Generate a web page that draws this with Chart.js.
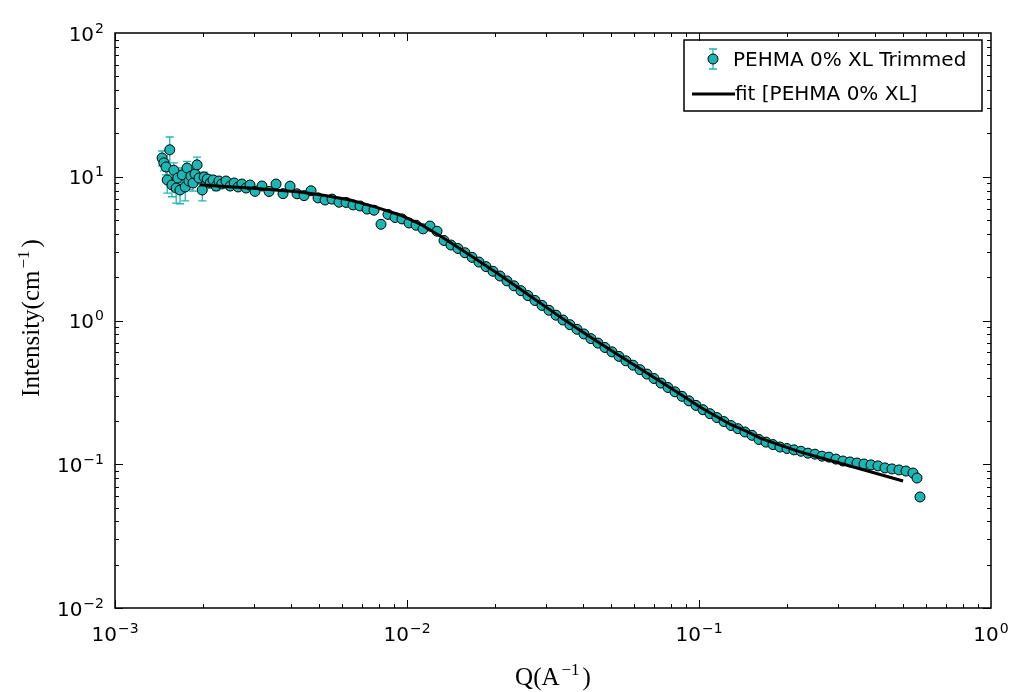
<!DOCTYPE html>
<html>
<head>
<meta charset="utf-8">
<script src="https://cdn.jsdelivr.net/npm/chart.js@4.4.1/dist/chart.umd.min.js"></script>
<style>
  body { margin: 0; background: #fff; }
  canvas { display: block; }
</style>
</head>
<body>
<canvas id="mychart" width="1016" height="692"></canvas>
<script>
// SANS curve, Q in 1/A, intensity in 1/cm
const dataQ = [
  0.00145, 0.00147, 0.001495, 0.00151, 0.00154, 0.001567, 0.00159, 0.00162, 0.00164, 0.00167,
  0.0017, 0.00174, 0.001765, 0.00179, 0.00182, 0.00185, 0.00188, 0.00191, 0.00194, 0.00199,
  0.00202, 0.00207, 0.00212, 0.002167, 0.00222, 0.00227, 0.00232, 0.0024, 0.00248, 0.00256,
  0.00264, 0.00272, 0.00281, 0.0029,
  0.003016, 0.003187, 0.003369, 0.00356, 0.003762, 0.003976, 0.004201, 0.00444, 0.004692, 0.004958,
  0.00524, 0.005537, 0.005851, 0.006183, 0.006534, 0.006905, 0.007297, 0.007709, 0.008147, 0.00861,
  0.009098, 0.009614, 0.01016, 0.01074, 0.01135, 0.01199, 0.01267, 0.01339, 0.01415, 0.01495,
  0.0158, 0.0167, 0.01764, 0.01865, 0.0197, 0.02082, 0.022, 0.02325, 0.02457, 0.02596,
  0.02744, 0.02899, 0.03064, 0.03238, 0.03421, 0.03615, 0.03821, 0.04037, 0.04266, 0.04509,
  0.04764, 0.05035, 0.0532, 0.05623, 0.05943, 0.0628, 0.06636, 0.07013, 0.07411, 0.07831,
  0.08275, 0.08745, 0.09241, 0.09766, 0.1032, 0.1091, 0.1152, 0.1218, 0.1287, 0.136,
  0.1437, 0.1519, 0.1605, 0.1696, 0.1792, 0.1894, 0.2001, 0.2115, 0.2235, 0.2362,
  0.2496, 0.2637, 0.2787, 0.2945, 0.3112, 0.3289, 0.3476, 0.3673, 0.3882, 0.4102,
  0.4334, 0.458, 0.4841, 0.5116, 0.5405, 0.5579, 0.5712
];
const dataI = [
  13.5, 12.5, 11.7, 9.5, 15.4, 8.76, 11.1, 8.35, 9.8, 8.09,
  10.3, 8.49, 11.5, 9.34, 10.1, 9.05, 10.45, 12.1, 9.8, 8.09,
  9.96, 9.65, 9.05, 9.5, 8.62, 9.34, 8.9, 9.34, 8.62, 9.05,
  8.49, 8.9, 8.35, 8.76,
  7.91, 8.62, 7.90, 8.90, 7.63, 8.60, 7.61, 7.39, 7.99, 7.13,
  6.89, 6.99, 6.65, 6.63, 6.37, 6.26, 5.96, 5.85, 4.67, 5.47,
  5.21, 5.09, 4.77, 4.60, 4.34, 4.54, 4.18, 3.60, 3.35, 3.17,
  2.96, 2.75, 2.55, 2.37, 2.20, 2.04, 1.886, 1.743, 1.612, 1.490,
  1.378, 1.274, 1.178, 1.089, 1.008, 0.935, 0.869, 0.806, 0.748, 0.696,
  0.649, 0.605, 0.563, 0.524, 0.489, 0.455, 0.424, 0.395, 0.367, 0.342,
  0.319, 0.297, 0.276, 0.2567, 0.2396, 0.2247, 0.2112, 0.198, 0.186, 0.1768,
  0.1677, 0.159, 0.1487, 0.1426, 0.137, 0.1318, 0.1287, 0.1259, 0.1231, 0.1194,
  0.1175, 0.1138, 0.1121, 0.1086, 0.1053, 0.1037, 0.102, 0.1004, 0.099, 0.0974,
  0.0943, 0.0928, 0.0913, 0.0897, 0.0869, 0.0802, 0.0592
];
// error bars of the first points (further on they hide under the markers)
const dataErr = [
  1.6, 1.5, 1.4, 1.8, 3.5, 1.5, 1.4, 1.8, 1.3, 1.6,
  1.2, 1.7, 1.3, 1.2, 1.0, 1.1, 1.0, 1.6, 0.9, 1.3,
  0.8, 0.7, 0.7, 0.6, 0.6, 0.5, 0.5, 0.5, 0.45, 0.4,
  0.4, 0.35, 0.35, 0.3
];

// model fit
const fitQ = [0.00195, 0.00238, 0.0029, 0.00353, 0.0043, 0.00524, 0.00638, 0.00777, 0.00946, 0.0111,
  0.013, 0.0164, 0.0208, 0.0264, 0.0334, 0.0424, 0.0536, 0.068, 0.0861, 0.1007,
  0.1277, 0.145, 0.162, 0.1894, 0.222, 0.27, 0.329, 0.5];
const fitI = [8.8, 8.55, 8.36, 8.1, 7.83, 7.41, 6.89, 6.17, 5.42, 4.69,
  3.87, 2.86, 2.07, 1.48, 1.06, 0.767, 0.566, 0.418, 0.308, 0.25,
  0.19, 0.17, 0.152, 0.136, 0.122, 0.1088, 0.0973, 0.0764];

const xExponents = [-3, -2, -1, 0];
const yExponents = [-2, -1, 0, 1, 2];

const seriesLabel = "PEHMA 0% XL Trimmed";
const fitLabel = "fit [PEHMA 0% XL]";

const teal = "rgb(28, 182, 180)";
const sansBig = "20px 'DejaVu Sans'";
const sansSmall = "14px 'DejaVu Sans'";
const serifBig = "25px 'Liberation Serif'";
const serifSmall = "17px 'Liberation Serif'";

function expText(e) {
  return e < 0 ? "\u2212" + Math.abs(e) : String(e);
}

// "10" with a raised exponent, returns its width
function powWidth(ctx, e) {
  ctx.font = sansBig;
  const w1 = ctx.measureText("10").width;
  ctx.font = sansSmall;
  return w1 + 1 + ctx.measureText(expText(e)).width;
}
function drawPow(ctx, left, baseline, e) {
  ctx.font = sansBig;
  const w1 = ctx.measureText("10").width;
  ctx.fillText("10", left, baseline);
  ctx.font = sansSmall;
  ctx.fillText(expText(e), left + w1 + 1, baseline - 8);
}

// text + superscript + closing text, centred on 0
function drawTitle(ctx, main, sup, tail) {
  ctx.font = serifBig;
  const w1 = ctx.measureText(main).width;
  const w3 = ctx.measureText(tail).width;
  ctx.font = serifSmall;
  const w2 = ctx.measureText(sup).width;
  const total = w1 + 2 + w2 + 3 + w3;
  let x = -total / 2;
  ctx.font = serifBig;
  ctx.fillText(main, x, 0);
  x += w1 + 2;
  ctx.font = serifSmall;
  ctx.fillText(sup, x, -10);
  x += w2 + 3;
  ctx.font = serifBig;
  ctx.fillText(tail, x, 0);
}

function errorBar(ctx, px, top, bot) {
  ctx.beginPath();
  ctx.moveTo(px, top); ctx.lineTo(px, bot);
  ctx.moveTo(px - 4, top); ctx.lineTo(px + 4, top);
  ctx.moveTo(px - 4, bot); ctx.lineTo(px + 4, bot);
  ctx.stroke();
}

const axesPlugin = {
  id: "axesPlugin",
  beforeDatasetsDraw(chart) {
    const { ctx, scales: { x, y } } = chart;
    ctx.save();
    ctx.strokeStyle = teal;
    ctx.lineWidth = 1.3;
    dataErr.forEach((e, i) => {
      const px = x.getPixelForValue(dataQ[i]);
      errorBar(ctx, px, y.getPixelForValue(dataI[i] + e), y.getPixelForValue(dataI[i] - e));
    });
    ctx.restore();
  },
  afterDraw(chart) {
    const { ctx, chartArea: a, scales: { x, y } } = chart;
    ctx.save();
    ctx.strokeStyle = "#000";
    ctx.fillStyle = "#000";

    // inward ticks on all four sides
    ctx.lineWidth = 1;
    ctx.beginPath();
    for (let e = -3; e < 0; e++) {
      for (let m = 1; m < 10; m++) {
        const px = Math.round(x.getPixelForValue(m * Math.pow(10, e))) + 0.5;
        const len = m === 1 ? 8 : 4;
        ctx.moveTo(px, a.bottom); ctx.lineTo(px, a.bottom - len);
        ctx.moveTo(px, a.top); ctx.lineTo(px, a.top + len);
      }
    }
    for (let e = -2; e < 2; e++) {
      for (let m = 1; m < 10; m++) {
        const py = Math.round(y.getPixelForValue(m * Math.pow(10, e))) + 0.5;
        const len = m === 1 ? 8 : 4;
        ctx.moveTo(a.left, py); ctx.lineTo(a.left + len, py);
        ctx.moveTo(a.right, py); ctx.lineTo(a.right - len, py);
      }
    }
    ctx.stroke();

    // frame
    ctx.lineWidth = 1.5;
    ctx.strokeRect(a.left, a.top, a.right - a.left, a.bottom - a.top);

    // tick labels
    ctx.textBaseline = "alphabetic";
    ctx.textAlign = "left";
    xExponents.forEach(e => {
      const px = x.getPixelForValue(Math.pow(10, e));
      drawPow(ctx, px - powWidth(ctx, e) / 2, a.bottom + 33, e);
    });
    yExponents.forEach(e => {
      const py = y.getPixelForValue(Math.pow(10, e));
      drawPow(ctx, a.left - 11 - powWidth(ctx, e), py + 7.5, e);
    });

    // axis titles
    ctx.save();
    ctx.translate((a.left + a.right) / 2, 685);
    drawTitle(ctx, "Q(A", "\u22121", ")");
    ctx.restore();
    ctx.save();
    ctx.translate(39, 318);
    ctx.rotate(-Math.PI / 2);
    drawTitle(ctx, "Intensity(cm", "\u22121", ")");
    ctx.restore();

    // legend
    ctx.lineWidth = 1.5;
    ctx.strokeRect(684, 40, 298, 71);
    ctx.strokeStyle = teal;
    ctx.lineWidth = 1.3;
    errorBar(ctx, 713, 49, 69);
    ctx.beginPath();
    ctx.arc(713, 59, 5, 0, Math.PI * 2);
    ctx.fillStyle = teal;
    ctx.fill();
    ctx.strokeStyle = "#000";
    ctx.lineWidth = 1;
    ctx.stroke();
    ctx.lineWidth = 3;
    ctx.beginPath();
    ctx.moveTo(692, 94); ctx.lineTo(735, 94);
    ctx.stroke();
    ctx.fillStyle = "#000";
    ctx.font = sansBig;
    ctx.fillText(seriesLabel, 733, 66);
    ctx.fillText(fitLabel, 735, 100);
    ctx.restore();
  }
};

const ctx = document.getElementById("mychart").getContext("2d");
const myChart = new Chart(ctx, {
  type: "scatter",
  data: {
    datasets: [
      {
        label: fitLabel,
        data: fitQ.map((q, i) => ({ x: q, y: fitI[i] })),
        showLine: true,
        borderColor: "#000",
        borderWidth: 3,
        pointRadius: 0,
        tension: 0,
        order: 0,
      },
      {
        label: seriesLabel,
        data: dataQ.map((q, i) => ({ x: q, y: dataI[i] })),
        pointRadius: 5,
        pointBackgroundColor: teal,
        pointBorderColor: "#000",
        pointBorderWidth: 1,
        order: 1,
      },
    ],
  },
  options: {
    responsive: false,
    animation: false,
    events: [],
    layout: { padding: { left: 115, top: 33, right: 25, bottom: 84 } },
    scales: {
      x: { type: "logarithmic", min: 0.001, max: 1, display: false },
      y: { type: "logarithmic", min: 0.01, max: 100, display: false },
    },
    plugins: { legend: { display: false }, tooltip: { enabled: false } },
  },
  plugins: [axesPlugin],
});
</script>
</body>
</html>
